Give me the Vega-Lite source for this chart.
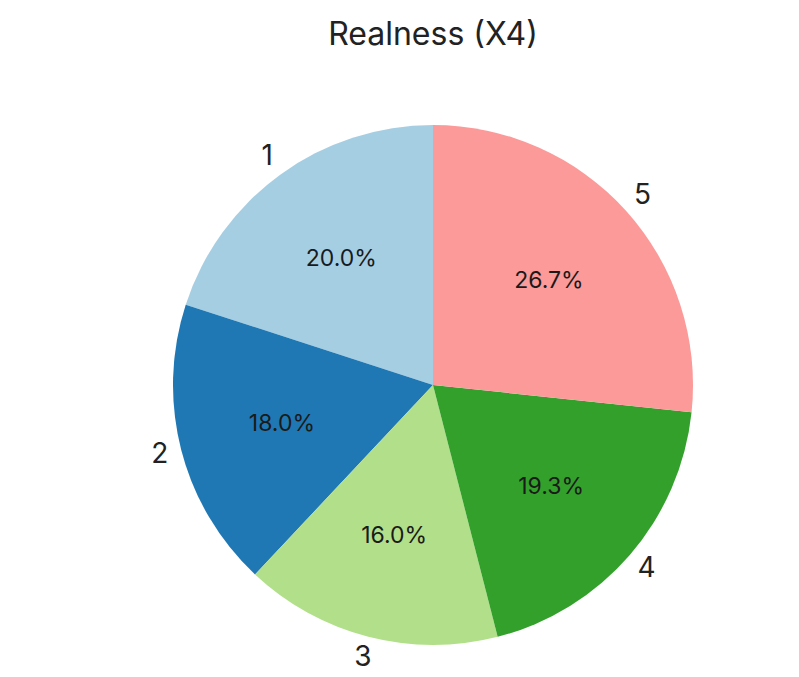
{
  "$schema": "https://vega.github.io/schema/vega-lite/v6.json",
  "autosize": {"type": "none"},
  "width": 800,
  "height": 614,
  "padding": {"left": 33, "top": 78, "right": 0, "bottom": 0},
  "background": "white",
  "title": {"text": "Realness (X4)", "fontSize": 32, "font": "Inter", "fontWeight": "normal", "color": "#222222", "offset": 26, "anchor": "middle"},
  "data": {"values": [
    {"cat": "1", "count": 30, "pct": "20.0%"},
    {"cat": "2", "count": 27, "pct": "18.0%"},
    {"cat": "3", "count": 24, "pct": "16.0%"},
    {"cat": "4", "count": 29, "pct": "19.3%"},
    {"cat": "5", "count": 40, "pct": "26.7%"}
  ]},
  "encoding": {
    "theta": {"field": "count", "type": "quantitative", "stack": true},
    "order": {"field": "cat", "type": "ordinal", "sort": "descending"},
    "color": {"field": "cat", "type": "nominal", "legend": null,
      "scale": {"domain": ["1","2","3","4","5"], "range": ["#a6cee3","#1f78b4","#b2df8a","#33a02c","#fb9a99"]}}
  },
  "layer": [
    {"mark": {"type": "arc", "outerRadius": 260}},
    {"mark": {"type": "text", "radius": 156, "fontSize": 23, "font": "Inter", "color": "#1a1a1a"},
     "encoding": {"text": {"field": "pct"}, "color": {"value": "#1a1a1a"}}},
    {"mark": {"type": "text", "radius": 282, "fontSize": 28, "font": "Inter", "color": "#222222"},
     "encoding": {"text": {"field": "cat"}, "color": {"value": "#222222"}}}
  ],
  "config": {"view": {"stroke": null}}
}
